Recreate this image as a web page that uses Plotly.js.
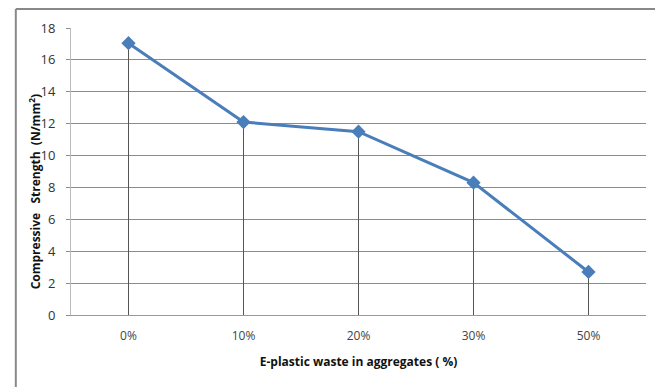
<!DOCTYPE html>
<html>
<head>
<meta charset="utf-8">
<script src="https://cdn.plot.ly/plotly-3.0.1.min.js"></script>
<style>html,body{margin:0;padding:0;background:#fff;}#chart{width:655px;height:387px;}</style>
</head>
<body>
<div id="chart"></div>
<script>
const categories = ['0%', '10%', '20%', '30%', '50%'];
const strength = [17.05, 12.1, 11.5, 8.3, 2.7];
const yTicks = [0, 2, 4, 6, 8, 10, 12, 14, 16, 18];
const zeros = strength.map(() => 0);

const trace = {
  x: categories,
  y: strength,
  type: 'scatter',
  mode: 'lines+markers',
  line: {color: '#4a7ebb', width: 3},
  marker: {symbol: 'diamond', size: 11, color: '#4a7ebb'},
  error_y: {type: 'data', symmetric: false, array: zeros, arrayminus: strength,
            width: 0, thickness: 1, color: '#555555'},
  showlegend: false,
  hoverinfo: 'skip'
};

const layout = {
  width: 655, height: 387,
  margin: {l: 71, r: 9, t: 28, b: 72},
  paper_bgcolor: '#ffffff', plot_bgcolor: '#ffffff',
  font: {family: 'Open Sans, Liberation Sans, sans-serif', size: 12, color: '#333'},
  xaxis: {
    type: 'category', range: [-0.5, 4.5],
    showgrid: false, zeroline: false,
    showline: true, linecolor: '#999', linewidth: 1,
    ticks: '', ticklabelstandoff: 10, tickfont: {size: 12, color: '#444'},
    title: {text: 'E-plastic waste in aggregates ( %)', font: {size: 12, color: '#111', weight: 'bold'}, standoff: 14}
  },
  yaxis: {
    range: [0, 18], tickvals: yTicks, ticktext: yTicks.map(String),
    showgrid: true, gridcolor: '#8c8c8c', gridwidth: 1,
    zeroline: false, showline: true, linecolor: '#bbb', linewidth: 1,
    ticks: 'outside', ticklen: 4, tickcolor: '#8c8c8c',
    ticklabelstandoff: 8,
    tickfont: {size: 13, color: '#333'}
  },
  annotations: [
    {text: 'Compressive\u00a0\u00a0\u00a0Strength\u00a0\u00a0(N/mm<sup>2</sup>)', xref: 'paper', yref: 'paper',
     x: -0.063, y: 0.43, xanchor: 'center', yanchor: 'middle', textangle: -90, showarrow: false,
     font: {size: 12, color: '#111', weight: 'bold'}}
  ],
  shapes: [
    {type: 'line', xref: 'paper', yref: 'paper', x0: -0.096, x1: -0.096, y0: 1.066, y1: -0.3, line: {color: '#888', width: 2}},
    {type: 'line', xref: 'paper', yref: 'paper', x0: -0.096, x1: 1.03, y0: 1.066, y1: 1.066, line: {color: '#888', width: 2}}
  ]
};

Plotly.newPlot('chart', [trace], layout, {displayModeBar: false, staticPlot: true});
</script>
</body>
</html>
